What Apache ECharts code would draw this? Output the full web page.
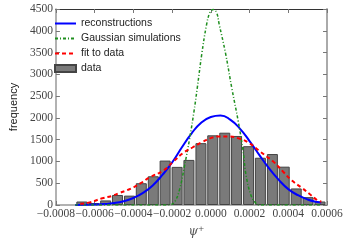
<!DOCTYPE html>
<html>
<head>
<meta charset="utf-8">
<script src="https://cdn.jsdelivr.net/npm/echarts@6/dist/echarts.min.js"></script>
<style>html,body{margin:0;padding:0;background:#fff}#c{width:348px;height:243px}</style>
</head>
<body>
<div id="c"></div>
<script>
// ---- data ----
var xTicks = [-0.0008, -0.0006, -0.0004, -0.0002, 0.0, 0.0002, 0.0004, 0.0006];
var yTicks = [0, 500, 1000, 1500, 2000, 2500, 3000, 3500, 4000, 4500];

var binCenters = [-0.000666, -0.000605, -0.000543, -0.000482, -0.000420, -0.000359, -0.000297,
  -0.000236, -0.000174, -0.000113, -0.000051, 0.000010, 0.000072, 0.000133, 0.000195,
  0.000256, 0.000318, 0.000379, 0.000441, 0.000502, 0.000564];
var binCounts = [80, 45, 105, 230, 215, 500, 660, 1020, 875, 1035, 1420, 1600, 1660, 1585,
  1350, 1085, 1170, 880, 380, 180, 80];

var recoX = [-0.0007, -0.00065, -0.0006, -0.00055, -0.0005, -0.00045, -0.0004, -0.00035, -0.0003,
  -0.00025, -0.0002, -0.00015, -0.0001, -0.00005, 0.0, 0.00005, 0.0001, 0.00015, 0.0002,
  0.00025, 0.0003, 0.00035, 0.0004, 0.00045, 0.0005, 0.00055, 0.00057];
var recoY = [2, 4, 9, 21, 44, 88, 161, 278, 449, 690, 975, 1320, 1640, 1890, 2020, 2055, 1960,
  1753, 1468, 1150, 845, 581, 365, 225, 127, 67, 55];

var simX = [-0.0007, -0.0004, -0.000227, -0.000209, -0.000185, -0.000160, -0.000136, -0.000111,
  -0.0000868, -0.0000706, -0.0000462, -0.0000217, -0.0000046, 0.0000126, 0.0000297, 0.0000434,
  0.0000762, 0.0001090, 0.0001413, 0.0001658, 0.0001825, 0.0002069, 0.0002314, 0.0002476,
  0.0004, 0.00057];
var simY = [0, 0, 0, 7, 82, 377, 894, 1485, 2150, 2668, 3480, 4146, 4420, 4490, 4420, 4146,
  3480, 2668, 1929, 1264, 672, 228, 44, 0, 0, 0];

var fitX = [-0.000674, -0.000625, -0.000560, -0.000511, -0.000478, -0.000413, -0.000364, -0.000315,
  -0.000242, -0.000193, -0.000144, -0.0000951, -0.0000462, 0.0000028, 0.0000420, 0.0000846,
  0.000150, 0.000199, 0.000248, 0.000288, 0.000321, 0.000370, 0.000419, 0.000468, 0.000507,
  0.000550, 0.000571];
var fitY = [29, 60, 155, 207, 266, 377, 495, 636, 800, 1000, 1190, 1320, 1440, 1540, 1575, 1575,
  1520, 1420, 1250, 1115, 1005, 780, 561, 400, 266, 110, 80];

var seriesNames = ['reconstructions', 'Gaussian simulations', 'fit to data', 'data'];

function zip(a, b) { var r = []; for (var i = 0; i < a.length; i++) r.push([a[i], b[i]]); return r; }
function fmtX(v) {
  if (Math.abs(v) < 1e-9) return '0.0000';
  return (v < 0 ? '\u2212' : '') + Math.abs(v).toFixed(4);
}
function fmtY(v) { return String(Math.round(v)); }

var chart = echarts.init(document.getElementById('c'), null, {renderer: 'canvas'});
var serifFont = "'Liberation Serif', 'Times New Roman', serif";

chart.setOption({
  animation: false,
  backgroundColor: '#fff',
  grid: {left: 41, right: 21, top: 9, bottom: 31},
  legend: {
    orient: 'vertical', left: 49, top: 12,
    itemWidth: 21, itemHeight: 7, itemGap: 2,
    textStyle: {fontFamily: 'Liberation Sans', fontSize: 10.5, color: '#222', lineHeight: 13},
    data: [
      {name: seriesNames[0], itemStyle: {opacity: 0}},
      {name: seriesNames[1], itemStyle: {opacity: 0}},
      {name: seriesNames[2], itemStyle: {opacity: 0}},
      {name: seriesNames[3], icon: 'rect'}
    ]
  },
  xAxis: [{
    type: 'value', min: xTicks[0], max: xTicks[xTicks.length - 1], interval: 0.0002,
    name: '{a|\u03c8}{b|+}', nameLocation: 'middle', nameGap: 20,
    nameTextStyle: {
      padding: [0, 0, 0, 10],
      rich: {
        a: {fontFamily: 'DejaVu Serif', fontStyle: 'italic', fontSize: 12, color: '#555'},
        b: {fontFamily: 'DejaVu Serif', fontSize: 8, color: '#555', verticalAlign: 'top', padding: [0, 0, 6, 0]}
      }
    },
    axisLine: {onZero: false, lineStyle: {color: '#999', width: 1.5}},
    axisTick: {inside: true, length: 4, lineStyle: {color: '#777'}},
    axisLabel: {margin: 3, interval: 0, formatter: fmtX, showMinLabel: true, showMaxLabel: true, hideOverlap: false,
      fontFamily: serifFont, fontSize: 11.5, color: '#444'},
    splitLine: {show: false}
  }, {
    type: 'value', position: 'top', min: xTicks[0], max: xTicks[xTicks.length - 1], interval: 0.0002,
    axisLine: {show: true, onZero: false, lineStyle: {color: '#333', width: 1}},
    axisTick: {show: true, inside: true, length: 4, lineStyle: {color: '#777'}},
    axisLabel: {show: false}, splitLine: {show: false}
  }],
  yAxis: [{
    type: 'value', min: yTicks[0], max: yTicks[yTicks.length - 1], interval: 500,
    name: 'frequency', nameLocation: 'middle', nameGap: 30,
    nameTextStyle: {fontFamily: 'Liberation Sans', fontSize: 11, color: '#222'},
    axisLine: {show: true, onZero: false, lineStyle: {color: '#999', width: 1.5}},
    axisTick: {show: true, inside: true, length: 4, lineStyle: {color: '#777'}},
    axisLabel: {margin: 3, interval: 0, formatter: fmtY, showMinLabel: true, showMaxLabel: true,
      fontFamily: serifFont, fontSize: 11.5, color: '#444'},
    splitLine: {show: false}
  }, {
    type: 'value', position: 'right', min: yTicks[0], max: yTicks[yTicks.length - 1], interval: 500,
    axisLine: {show: true, onZero: false, lineStyle: {color: '#aaa', width: 2}},
    axisTick: {show: true, inside: true, length: 4, lineStyle: {color: '#777'}},
    axisLabel: {show: false}, splitLine: {show: false}
  }],
  series: [{
    name: seriesNames[3], type: 'bar', barWidth: 11, z: 1,
    itemStyle: {color: '#7a7a7a', borderColor: '#444', borderWidth: 1},
    data: zip(binCenters, binCounts)
  }, {
    name: seriesNames[0], type: 'line', smooth: true, symbol: 'none', z: 3,
    lineStyle: {color: '#0000ff', width: 2}, itemStyle: {color: '#0000ff'},
    data: zip(recoX, recoY)
  }, {
    name: seriesNames[1], type: 'line', smooth: 0.4, symbol: 'none', z: 4,
    lineStyle: {color: '#1f8f1f', width: 1.5, type: [3, 2, 1, 2]}, itemStyle: {color: '#1f8f1f'},
    data: zip(simX, simY)
  }, {
    name: seriesNames[2], type: 'line', smooth: true, symbol: 'none', z: 5,
    lineStyle: {color: '#ff0000', width: 2, type: [4, 3]}, itemStyle: {color: '#ff0000'},
    data: zip(fitX, fitY)
  }]
});
</script>
</body>
</html>
